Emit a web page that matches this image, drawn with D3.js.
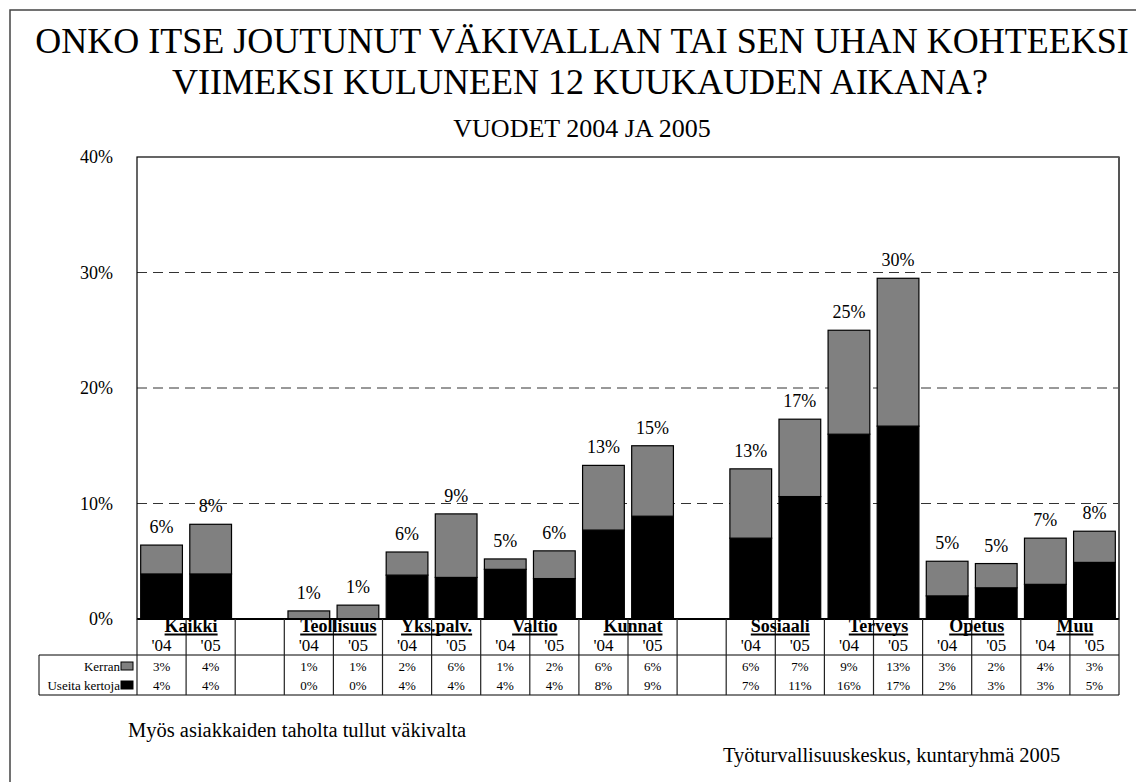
<!DOCTYPE html>
<html>
<head>
<meta charset="utf-8">
<script src="https://cdn.jsdelivr.net/npm/d3@7"></script>
<style>
  body { margin: 0; background: #fff; }
</style>
</head>
<body>
<div id="main_div"></div>
<script>
// categories, with an empty slot after Kaikki and after Kunnat
var categories = ["Kaikki", "Teollisuus", "Yks.palv.", "Valtio", "Kunnat", "Sosiaali", "Terveys", "Opetus", "Muu"];
var years = ["'04", "'05"];
var gapAfter = ["Kaikki", "Kunnat"];

// values in %, one per bar ('04, '05 for each category)
var kerran = [2.5, 4.3, 0.7, 1.2, 2.0, 5.5, 0.9, 2.4, 5.6, 6.1, 6.0, 6.7, 9.0, 12.8, 3.0, 2.1, 4.0, 2.7];
var useita = [3.9, 3.9, 0.0, 0.0, 3.8, 3.6, 4.3, 3.5, 7.7, 8.9, 7.0, 10.6, 16.0, 16.7, 2.0, 2.7, 3.0, 4.9];

// texts as printed
var totalTxt = ["6%", "8%", "1%", "1%", "6%", "9%", "5%", "6%", "13%", "15%", "13%", "17%", "25%", "30%", "5%", "5%", "7%", "8%"];
var kerranTxt = ["3%", "4%", "1%", "1%", "2%", "6%", "1%", "2%", "6%", "6%", "6%", "7%", "9%", "13%", "3%", "2%", "4%", "3%"];
var useitaTxt = ["4%", "4%", "0%", "0%", "4%", "4%", "4%", "4%", "8%", "9%", "7%", "11%", "16%", "17%", "2%", "3%", "3%", "5%"];
var yTicks = [0, 10, 20, 30, 40];
var seriesNames = ["Kerran", "Useita kertoja"];
var seriesColors = ["#808080", "#000000"];

var serif = "'Liberation Serif', 'Times New Roman', serif";

var slots = [];
var bars = [];
categories.forEach(function(c) {
    years.forEach(function(y) {
        slots.push(c + "|" + y);
        var i = bars.length;
        bars.push({key: c + "|" + y, cat: c, year: y, useita: useita[i], kerran: kerran[i],
                   total: totalTxt[i], kt: kerranTxt[i], ut: useitaTxt[i]});
    });
    if (gapAfter.indexOf(c) >= 0) slots.push("gap|" + c);
});

var W = 1136, H = 782;
var pLeft = 137, pRight = 1119, pTop = 157, pBottom = 619;

var x_scale = d3.scaleBand().domain(slots).range([pLeft, pRight]).paddingInner(0.15).paddingOuter(0.075);
var y_scale = d3.scaleLinear().domain([0, 40]).range([pBottom, pTop]);
var step = x_scale.step();
function slotStart(k) { return x_scale(k) - step * 0.075; }

var svg = d3.select("#main_div").append("svg").attr("width", W).attr("height", H)
    .attr("font-family", serif);

// outer frame
svg.append("rect").attr("x", 10).attr("y", 10).attr("width", 1200).attr("height", 1000)
    .attr("fill", "none").attr("stroke", "#444").attr("stroke-width", 1.5);

// titles
svg.append("text").attr("x", 582).attr("y", 53).attr("text-anchor", "middle").attr("font-size", 36)
    .text("ONKO ITSE JOUTUNUT VÄKIVALLAN TAI SEN UHAN KOHTEEKSI");
svg.append("text").attr("x", 580).attr("y", 94).attr("text-anchor", "middle").attr("font-size", 36)
    .text("VIIMEKSI KULUNEEN 12 KUUKAUDEN AIKANA?");
svg.append("text").attr("x", 582).attr("y", 137).attr("text-anchor", "middle").attr("font-size", 26)
    .text("VUODET 2004 JA 2005");

// gridlines
svg.append("g").selectAll("line").data(yTicks.filter(function(d) { return d > 0 && d < 40; })).enter().append("line")
    .attr("x1", pLeft).attr("x2", pRight)
    .attr("y1", function(d) { return y_scale(d); }).attr("y2", function(d) { return y_scale(d); })
    .attr("stroke", "#333").attr("stroke-dasharray", "10,6");

// y axis
var g_y = svg.append("g").attr("transform", "translate(" + pLeft + ",0)")
    .call(d3.axisLeft(y_scale).tickValues(yTicks).tickSize(0).tickPadding(24).tickFormat(function(d) { return d + "%"; }));
g_y.attr("font-family", serif).attr("font-size", 18);
g_y.select(".domain").remove();
g_y.selectAll("text").attr("fill", "#000");

// stacked bars
var stack = d3.stack().keys(["useita", "kerran"]);
var layers = stack(bars);
svg.append("g").selectAll("g").data(layers).enter().append("g")
    .attr("fill", function(d) { return d.key == "useita" ? "#000" : "#808080"; })
    .selectAll("rect").data(function(d) { return d; }).enter().append("rect")
    .attr("x", function(d) { return x_scale(d.data.key); })
    .attr("width", x_scale.bandwidth())
    .attr("y", function(d) { return y_scale(d[1]); })
    .attr("height", function(d) { return y_scale(d[0]) - y_scale(d[1]); })
    .attr("stroke", "#000").attr("stroke-width", 1.2);

// total labels
svg.append("g").selectAll("text").data(bars).enter().append("text")
    .attr("x", function(d) { return x_scale(d.key) + x_scale.bandwidth() / 2; })
    .attr("y", function(d) { return y_scale(d.useita + d.kerran) - 12; })
    .attr("text-anchor", "middle").attr("font-size", 18)
    .text(function(d) { return d.total; });

// plot frame
svg.append("rect").attr("x", pLeft).attr("y", pTop).attr("width", pRight - pLeft).attr("height", pBottom - pTop)
    .attr("fill", "none").attr("stroke", "#000").attr("stroke-width", 1.2);
svg.append("line").attr("x1", pRight).attr("x2", pRight).attr("y1", pTop).attr("y2", pBottom)
    .attr("stroke", "#555").attr("stroke-width", 2);
svg.append("line").attr("x1", pLeft).attr("x2", pRight).attr("y1", pBottom).attr("y2", pBottom)
    .attr("stroke", "#000").attr("stroke-width", 2);

// table under the plot
var tTop = 655, tBottom = 695, tLeft = 39;
var tab = svg.append("g");
tab.append("line").attr("x1", tLeft).attr("x2", pRight).attr("y1", tTop).attr("y2", tTop).attr("stroke", "#000");
tab.append("line").attr("x1", tLeft).attr("x2", pRight).attr("y1", tBottom).attr("y2", tBottom).attr("stroke", "#000");
tab.append("line").attr("x1", tLeft).attr("x2", tLeft).attr("y1", tTop).attr("y2", tBottom).attr("stroke", "#000");
var bounds = slots.map(slotStart).concat([pRight]);
tab.selectAll(".vl").data(bounds).enter().append("line").attr("class", "vl")
    .attr("x1", function(d) { return d; }).attr("x2", function(d) { return d; })
    .attr("y1", pBottom).attr("y2", tBottom).attr("stroke", "#222").attr("stroke-width", 1.2);

// years
tab.selectAll(".yr").data(bars).enter().append("text").attr("class", "yr")
    .attr("x", function(d) { return slotStart(d.key) + step / 2; }).attr("y", 651)
    .attr("text-anchor", "middle").attr("font-size", 17)
    .text(function(d) { return d.year; });

// category names, bold and underlined
var cg = tab.selectAll(".cat").data(categories).enter().append("g").attr("class", "cat");
cg.append("text")
    .attr("x", function(c) { return slotStart(c + "|" + years[0]) + step + 5; }).attr("y", 632)
    .attr("text-anchor", "middle").attr("font-size", 18).attr("font-weight", "bold")
    .text(function(c) { return c; });
cg.each(function() {
    var t = d3.select(this).select("text");
    var w = t.node().getComputedTextLength();
    var cx = +t.attr("x");
    d3.select(this).append("line").attr("x1", cx - w / 2).attr("x2", cx + w / 2)
        .attr("y1", 634.5).attr("y2", 634.5).attr("stroke", "#000").attr("stroke-width", 2);
});

// table values
var rows = [{name: seriesNames[0], color: seriesColors[0], f: "kt", y: 671},
            {name: seriesNames[1], color: seriesColors[1], f: "ut", y: 690}];
rows.forEach(function(r) {
    tab.append("text").attr("x", 120).attr("y", r.y).attr("text-anchor", "end").attr("font-size", 13).text(r.name);
    tab.append("rect").attr("x", 121).attr("y", r.y - 9).attr("width", 12).attr("height", 8)
        .attr("fill", r.color).attr("stroke", "#000");
    tab.selectAll(".v" + r.f).data(bars).enter().append("text").attr("class", "v" + r.f)
        .attr("x", function(d) { return slotStart(d.key) + step / 2; }).attr("y", r.y)
        .attr("text-anchor", "middle").attr("font-size", 13)
        .text(function(d) { return d[r.f]; });
});

// footnotes
svg.append("text").attr("x", 128).attr("y", 737).attr("font-size", 20.5)
    .text("Myös asiakkaiden taholta tullut väkivalta");
svg.append("text").attr("x", 723).attr("y", 762).attr("font-size", 20.5)
    .text("Työturvallisuuskeskus, kuntaryhmä 2005");
</script>
</body>
</html>
